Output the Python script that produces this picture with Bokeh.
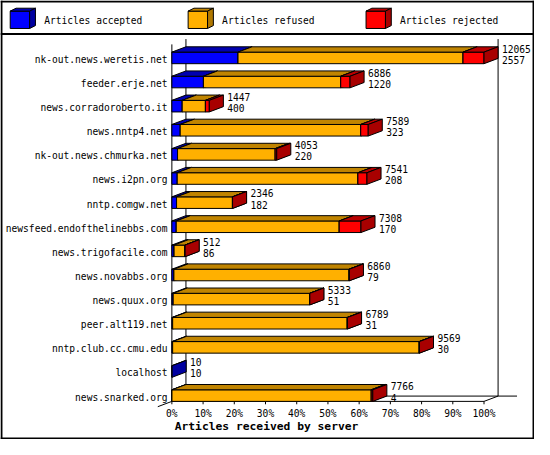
from bokeh.plotting import figure
from bokeh.models import Range1d, ColumnDataSource
from bokeh.core.properties import value
from bokeh.embed import file_html
from bokeh.resources import INLINE

# ---------------- data ----------------
servers = ["nk-out.news.weretis.net", "feeder.erje.net", "news.corradoroberto.it",
           "news.nntp4.net", "nk-out.news.chmurka.net", "news.i2pn.org",
           "nntp.comgw.net", "newsfeed.endofthelinebbs.com", "news.trigofacile.com",
           "news.novabbs.org", "news.quux.org", "peer.alt119.net",
           "nntp.club.cc.cmu.edu", "localhost", "news.snarked.org"]
received = [12065, 6886, 1447, 7589, 4053, 7541, 2346, 7308, 512, 6860, 5333, 6789, 9569, 10, 7766]
accepted = [2557, 1220, 400, 323, 220, 208, 182, 170, 86, 79, 51, 31, 30, 10, 4]
rejected = [810, 360, 150, 290, 60, 350, 5, 840, 6, 10, 6, 12, 10, 0, 60]
series = ["Articles accepted", "Articles refused", "Articles rejected"]
x_ticks = [0, 10, 20, 30, 40, 50, 60, 70, 80, 90, 100]
x_tick_labels = ["0%", "10%", "20%", "30%", "40%", "50%", "60%", "70%", "80%", "90%", "100%"]
x_title = "Articles received by server"

refused = [r - a - j for r, a, j in zip(received, accepted, rejected)]

# ---------------- style / layout ----------------
FRONT = ["#0000FF", "#FFB000", "#FF0000"]
TOP = ["#0000B0", "#C08400", "#B80000"]
SIDE = ["#0000A0", "#B07800", "#A80000"]
FONT = value("DejaVu Sans Mono")
FS = value("9.6px")
FSB = value("11.3px")

W, H = 534, 439
REF_W, REF_H = 550.0, 455.0
X0_PX, X100_PX = 176.5, 498.0
ROW0_PX, ROW_STEP = 59.5, 25.0
PPP = (X100_PX - X0_PX) / 100.0


def px_x(px):
    return (px - X0_PX) / PPP


def px_y(py):
    return (py - ROW0_PX) / ROW_STEP


DX = 14.5 / PPP
DY = -5.5 / ROW_STEP
HALF = 6.0 / ROW_STEP

p = figure(width=W, height=H, output_backend="svg", toolbar_location=None,
           x_range=Range1d(px_x(0), px_x(REF_W)), y_range=Range1d(px_y(REF_H), px_y(0)),
           x_axis_type=None, y_axis_type=None, min_border=0)
p.grid.visible = False
p.outline_line_color = None
p.background_fill_color = "white"
p.border_fill_color = "white"

# ---------------- frame (walls, floor, ticks) ----------------
floor_front = px_y(415.5)
floor_back = floor_front + DY
wall_top = px_y(40)
wx = [[DX, DX], [100 + DX, 100 + DX], [0, 0], [0, 100], [100, 100 + DX],
      [0, -DX], [DX, px_x(532)]]
wy = [[wall_top, floor_back], [wall_top, floor_back], [wall_top - DY, floor_front],
      [floor_front, floor_front], [floor_front, floor_back],
      [floor_front, floor_front - DY], [floor_back, floor_back]]
for t in x_ticks:
    wx.append([t, t])
    wy.append([floor_front, px_y(418.5)])
p.multi_line(wx, wy, line_color="black", line_width=1)

# ---------------- 3D stacked bars ----------------
scale_max = max(received)
xs, ys, fills = [], [], []
for i in range(len(servers)):
    yt, yb = i - HALF, i + HALF
    start = 0.0
    for k, v in enumerate([accepted[i], refused[i], rejected[i]]):
        if v <= 0:
            continue
        a = start
        b = start + v / scale_max * 100.0
        xs.append([a, b, b, a]); ys.append([yt, yt, yb, yb]); fills.append(FRONT[k])
        xs.append([a, b, b + DX, a + DX]); ys.append([yt, yt, yt + DY, yt + DY]); fills.append(TOP[k])
        xs.append([b, b + DX, b + DX, b]); ys.append([yt, yt + DY, yb + DY, yb]); fills.append(SIDE[k])
        start = b
p.patches(xs, ys, fill_color=fills, line_color="black", line_width=1, line_join="miter")

# ---------------- value labels ----------------
rows = list(range(len(servers)))
lab_x = [r / scale_max * 100.0 + DX + 4 / PPP for r in received]
src = ColumnDataSource(dict(
    x=lab_x, y_tot=[i - 9.5 / ROW_STEP for i in rows], y_acc=[i + 2.0 / ROW_STEP for i in rows],
    tot=[str(v) for v in received], acc=[str(v) for v in accepted],
    cx=[px_x(172)] * len(rows), cy=[i + 1.5 / ROW_STEP for i in rows], name=servers))
p.text(x="x", y="y_tot", text="tot", source=src, text_font=FONT, text_font_size=FS,
       text_align="left", text_baseline="middle", text_color="black")
p.text(x="x", y="y_acc", text="acc", source=src, text_font=FONT, text_font_size=FS,
       text_align="left", text_baseline="middle", text_color="black")
p.text(x="cx", y="cy", text="name", source=src, text_font=FONT, text_font_size=FS,
       text_align="right", text_baseline="middle", text_color="black")

# ---------------- x tick labels and title ----------------
p.text(x=x_ticks, y=[px_y(428.5)] * len(x_ticks), text=x_tick_labels, text_font=FONT,
       text_font_size=FS, text_align="center", text_baseline="middle", text_color="black")
p.text(x=[px_x(274)], y=[px_y(441.5)], text=[x_title], text_font=FONT, text_font_size=FSB,
       text_font_style="bold", text_align="center", text_baseline="middle", text_color="black")

# ---------------- legend (3D cubes) ----------------
lx, ly, lf = [], [], []
for k in range(3):
    off = 183.25 * k
    a, b = px_x(10 + off), px_x(30 + off)
    t, u = px_y(11), px_y(29)
    ddx, ddy = 6 / PPP, -3 / ROW_STEP
    lx.append([a, b, b, a]); ly.append([t, t, u, u]); lf.append(FRONT[k])
    lx.append([a, b, b + ddx, a + ddx]); ly.append([t, t, t + ddy, t + ddy]); lf.append(TOP[k])
    lx.append([b, b + ddx, b + ddx, b]); ly.append([t, t + ddy, u + ddy, u]); lf.append(SIDE[k])
p.patches(lx, ly, fill_color=lf, line_color="black", line_width=1, line_join="miter")
p.text(x=[px_x(45 + 183.25 * k) for k in range(3)], y=[px_y(20.5)] * 3, text=series,
       text_font=FONT, text_font_size=FS, text_align="left", text_baseline="middle",
       text_color="black")

# ---------------- border and separator ----------------
p.multi_line([[px_x(0), px_x(REF_W)], [px_x(1), px_x(1)], [px_x(549), px_x(549)],
              [px_x(0), px_x(REF_W)], [px_x(0), px_x(REF_W)]],
             [[px_y(1), px_y(1)], [px_y(0), px_y(REF_H)], [px_y(0), px_y(REF_H)],
              [px_y(454), px_y(454)], [px_y(34.7), px_y(34.7)]],
             line_color="black", line_width=2)

open("out.html", "w").write(file_html(p, INLINE))
